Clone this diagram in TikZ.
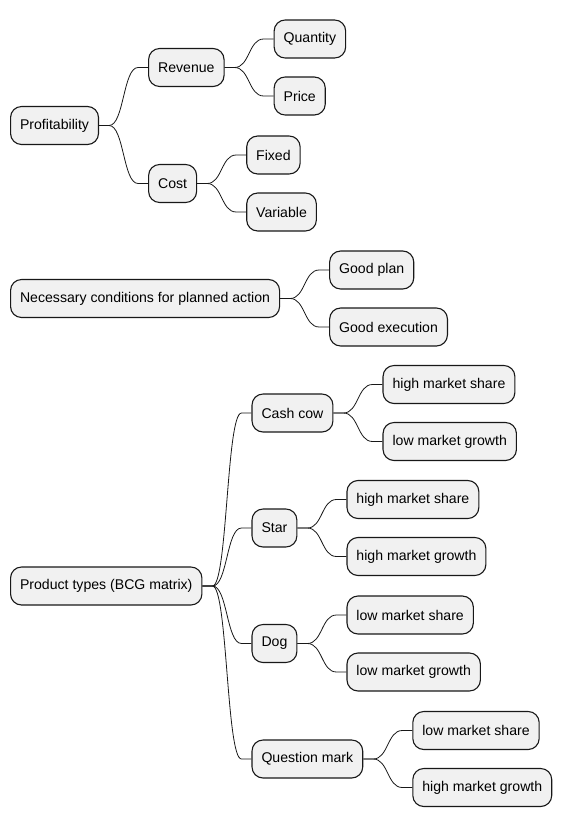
\documentclass[tikz,border=0pt]{standalone}
\usepackage{fontspec}
\setmainfont{Liberation Sans}
\usetikzlibrary{positioning}
\definecolor{boxfill}{HTML}{F1F1F1}
\definecolor{boxline}{HTML}{181818}

\begin{document}
\begin{tikzpicture}[
  node distance = 49pt,
  mnode/.style={rectangle, rounded corners=11pt, draw=boxline, fill=boxfill, line width=1.1pt,
    minimum height=38pt, inner xsep=9.5pt, font=\fontsize{14.1pt}{16pt}\selectfont, text=black},
  link/.style={-, line width=0.8pt, draw=boxline,
    to path={-- ++(10pt,0) .. controls +(15pt,0) and ([xshift=-25pt]\tikztotarget) .. ([xshift=-10pt]\tikztotarget) -- (\tikztotarget)}}
  ]
\useasboundingbox (0,0) rectangle (565pt,-827pt);

% first map
\node [mnode, anchor=west] (prof) at (10pt,-125.5pt) {Profitability};
\node [mnode, right=of prof, yshift=58pt] (rev) {Revenue};
\node [mnode, right=of prof, yshift=-58pt] (cost) {Cost};
\node [mnode, right=of rev, yshift=28.5pt] (qty) {Quantity};
\node [mnode, right=of rev, yshift=-28.5pt] (price) {Price};
\node [mnode, right=of cost, yshift=28.5pt] (fixed) {Fixed};
\node [mnode, right=of cost, yshift=-28.5pt] (var) {Variable};

% second map
\node [mnode, anchor=west] (cond) at (10pt,-298.5pt) {Necessary conditions for planned action};
\node [mnode, right=of cond, yshift=28.5pt] (plan) {Good plan};
\node [mnode, right=of cond, yshift=-28.5pt] (exec) {Good execution};

% third map
\node [mnode, anchor=west] (bcg) at (10pt,-586pt) {Product types (BCG matrix)};
\node [mnode, right=of bcg, yshift=173pt] (cow) {Cash cow};
\node [mnode, right=of bcg, yshift=58pt] (star) {Star};
\node [mnode, right=of bcg, yshift=-57.5pt] (dog) {Dog};
\node [mnode, right=of bcg, yshift=-173pt] (qm) {Question mark};
\node [mnode, right=of cow, yshift=28.5pt] (cow1) {high market share};
\node [mnode, right=of cow, yshift=-28.5pt] (cow2) {low market growth};
\node [mnode, right=of star, yshift=28.5pt] (star1) {high market share};
\node [mnode, right=of star, yshift=-28.5pt] (star2) {high market growth};
\node [mnode, right=of dog, yshift=28.5pt] (dog1) {low market share};
\node [mnode, right=of dog, yshift=-28.5pt] (dog2) {low market growth};
\node [mnode, right=of qm, yshift=28.5pt] (qm1) {low market share};
\node [mnode, right=of qm, yshift=-28.5pt] (qm2) {high market growth};

\draw [link] (prof.east) to (rev.west);
\draw [link] (prof.east) to (cost.west);
\draw [link] (rev.east) to (qty.west);
\draw [link] (rev.east) to (price.west);
\draw [link] (cost.east) to (fixed.west);
\draw [link] (cost.east) to (var.west);

\draw [link] (cond.east) to (plan.west);
\draw [link] (cond.east) to (exec.west);

\draw [link] (bcg.east) to (cow.west);
\draw [link] (bcg.east) to (star.west);
\draw [link] (bcg.east) to (dog.west);
\draw [link] (bcg.east) to (qm.west);
\draw [link] (cow.east) to (cow1.west);
\draw [link] (cow.east) to (cow2.west);
\draw [link] (star.east) to (star1.west);
\draw [link] (star.east) to (star2.west);
\draw [link] (dog.east) to (dog1.west);
\draw [link] (dog.east) to (dog2.west);
\draw [link] (qm.east) to (qm1.west);
\draw [link] (qm.east) to (qm2.west);

\end{tikzpicture}
\end{document}
